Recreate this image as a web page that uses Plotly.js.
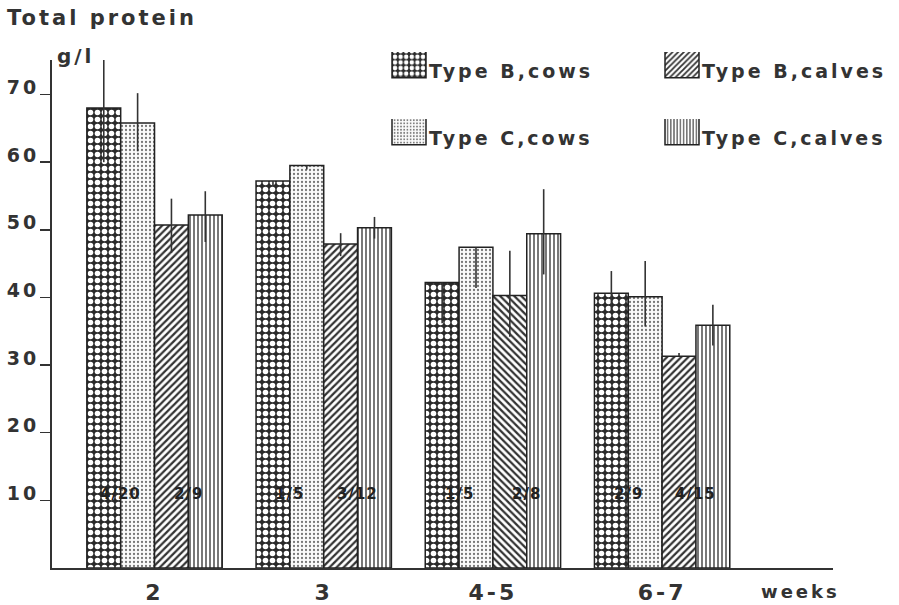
<!DOCTYPE html>
<html><head><meta charset="utf-8">
<script src="https://cdn.plot.ly/plotly-3.0.1.min.js"></script>
<style>
html,body{margin:0;padding:0;background:#fff;}
#chart{width:899px;height:605px;}
text{letter-spacing:3px;}
</style></head><body><div id="chart"></div>
<script>
// categories
const weeks = ['2','3','4-5','6-7'];
const seriesNames = ['Type B,cows','Type C,cows','Type B,calves','Type C,calves'];
// series values (g/l) and error extents
const bCows       = [68.0, 57.2, 42.2, 40.6];
const bCowsPlus   = [8.0, 0, 0, 3.3];
const bCowsMinus  = [8.0, 0.7, 6.0, 2.7];
const cCows       = [65.8, 59.5, 47.4, 40.1];
const cCowsPlus   = [4.4, 0, 0, 5.3];
const cCowsMinus  = [4.2, 0.6, 6.0, 4.4];
const bCalves      = [50.7, 47.9, 40.3, 31.3];
const bCalvesPlus  = [3.9, 1.6, 6.6, 0.5];
const bCalvesMinus = [4.1, 1.8, 6.1, 0];
const cCalves      = [52.2, 50.3, 49.4, 35.9];
const cCalvesPlus  = [3.5, 1.6, 6.6, 3.0];
const cCalvesMinus = [4.0, 1.6, 6.0, 3.0];
// sample-size labels inside the bars
const nLeft  = ['4/20','1/5','1/5','2/9'];
const nRight = ['2/9','3/12','2/8','4/15'];
const nLabelY = 11;
const yTicks = [10,20,30,40,50,60,70];

const ink = '#333';
const FONT = 'DejaVu Sans, Liberation Sans, sans-serif';

function err(plus, minus){
  return {type:'data', symmetric:false, array:plus, arrayminus:minus,
          color:ink, thickness:1.6, width:0};
}
function bar(name, y, plus, minus, pattern, legend){
  return {type:'bar', name:name, x:weeks, y:y, legend:legend,
    marker:{color:'#fff', line:{color:'#222', width:1.5}, pattern:pattern},
    error_y:err(plus, minus), hoverinfo:'skip'};
}

const data = [
  bar(seriesNames[0], bCows, bCowsPlus, bCowsMinus,
      {shape:'.', bgcolor:'#2b2b2b', fgcolor:'#ffffff', size:7, solidity:0.5}, 'legend'),
  bar(seriesNames[1], cCows, cCowsPlus, cCowsMinus,
      {shape:'.', bgcolor:'#fbfbfb', fgcolor:'#777', size:4, solidity:0.25}, 'legend2'),
  bar(seriesNames[2], bCalves, bCalvesPlus, bCalvesMinus,
      {shape:['/','/','\\','/'], bgcolor:'#fff', fgcolor:'#333', size:5, solidity:0.45}, 'legend'),
  bar(seriesNames[3], cCalves, cCalvesPlus, cCalvesMinus,
      {shape:'|', bgcolor:'#fff', fgcolor:'#555', size:4, solidity:0.4}, 'legend2')
];

const annFont = {family:FONT, size:21, color:ink, weight:'bold'};
const annotations = [
  {text:'Total protein', xref:'paper', yref:'paper', x:-0.0602, y:1.0827, xanchor:'left', yanchor:'middle', showarrow:false, font:annFont},
  {text:'g/l', xref:'paper', yref:'paper', x:0.0038, y:1.008, xanchor:'left', yanchor:'middle', showarrow:false,
   font:{family:FONT, size:20, color:ink, weight:'bold'}},
  {text:'weeks', xref:'paper', yref:'paper', x:0.959, y:-0.047, xanchor:'center', yanchor:'middle', showarrow:false,
   font:{family:FONT, size:18, color:ink, weight:'bold'}}
];
weeks.forEach((w,i)=>{
  annotations.push({text:nLeft[i], x:i-0.2, y:nLabelY, xref:'x', yref:'y', showarrow:false,
    xanchor:'center', yanchor:'middle', font:{family:FONT, size:15, color:'#222', weight:'bold'}});
  annotations.push({text:nRight[i], x:i+0.2, y:nLabelY, xref:'x', yref:'y', showarrow:false,
    xanchor:'center', yanchor:'middle', font:{family:FONT, size:15, color:'#222', weight:'bold'}});
});

const legFont = {family:FONT, size:19, color:ink, weight:'bold'};
const layout = {
  width:899, height:605,
  margin:{l:52, r:66, t:60, b:37, autoexpand:false},
  paper_bgcolor:'#fff', plot_bgcolor:'#fff',
  barmode:'group', bargap:0.2, bargroupgap:0,
  font:{family:FONT, color:ink},
  xaxis:{type:'category', range:[-0.606, 4.01], showline:true, linecolor:ink, linewidth:2,
    ticks:'', showgrid:false, zeroline:false, ticklabelstandoff:4, automargin:false,
    tickfont:{family:FONT, size:22, color:ink, weight:'bold'}},
  yaxis:{range:[0,75.1], tickvals:yTicks, showline:true, linecolor:ink, linewidth:2, automargin:false,
    ticks:'outside', ticklen:10, tickwidth:1.5, tickcolor:ink, showgrid:false, zeroline:false,
    ticklabelstandoff:-3, ticklabelshift:-7,
    tickfont:{family:FONT, size:19, color:ink, weight:'bold'}},
  legend:{orientation:'h', x:0.4315, y:1.0157, xanchor:'left', yanchor:'top',
    entrywidth:228, entrywidthmode:'pixels', font:legFont, bgcolor:'rgba(0,0,0,0)', traceorder:'normal'},
  legend2:{orientation:'h', x:0.4315, y:0.884, xanchor:'left', yanchor:'top',
    entrywidth:228, entrywidthmode:'pixels', font:legFont, bgcolor:'rgba(0,0,0,0)', traceorder:'normal'},
  annotations:annotations,
  showlegend:true
};

const gd = document.getElementById('chart');
Plotly.newPlot(gd, data, layout, {staticPlot:true, displayModeBar:false}).then(()=>{
  gd.querySelectorAll('.legendpoints path').forEach(p=>p.setAttribute('d','M17,7H-17V-26H17Z'));
  gd.querySelectorAll('.annotation-text').forEach(t=>{
    if(/\d\/\d/.test(t.textContent)) t.style.letterSpacing='1px';
  });
});
</script></body></html>
